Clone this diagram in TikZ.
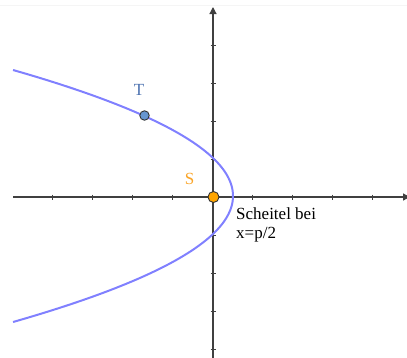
\documentclass[tikz,border=0pt]{standalone}
\usepackage{fontspec}
\setmainfont{Liberation Serif}
\usetikzlibrary{arrows.meta}
\definecolor{curveblue}{RGB}{128,128,255}
\definecolor{tfill}{RGB}{102,150,208}
\definecolor{tlabel}{RGB}{76,114,176}
\definecolor{sfill}{RGB}{255,165,0}
\definecolor{slabel}{RGB}{250,165,40}
\definecolor{axisgray}{RGB}{64,64,64}
\begin{document}
\begin{tikzpicture}[x=1pt,y=-1pt,
  axis/.style={draw=axisgray,line width=1.2pt},
  tick/.style={draw=axisgray,line width=1pt},
  curve/.style={draw=curveblue,line width=2pt},
  ptdot/.style={circle,draw=axisgray!80!black,line width=0.9pt,minimum size=10pt,inner sep=0pt},
  lbl/.style={inner sep=0pt,font=\fontsize{17}{19.5}\selectfont}]
\useasboundingbox (0,0) rectangle (407,357);
\clip (0,0) rectangle (407,357);
\draw[gray!8,line width=1.5pt] (0,5.5) -- (407,5.5);
% axes
\coordinate (xl) at (13,197);
\coordinate (xr) at (410,197);
\coordinate (yb) at (213,360);
\coordinate (yt) at (213,7);
\draw[axis,-{Triangle[length=7pt,width=7pt]}] (xl) -- (xr);
\draw[axis,-{Triangle[length=7pt,width=7pt]}] (yb) -- (yt);
\foreach \t in {52,92,132,172,252,292,332,372}
  \draw[tick] (\t,194.5) -- (\t,199.5);
\foreach \t in {45,83,121,159,235,273,311,349}
  \draw[tick] (210.5,\t) -- (215.5,\t);
% parabola
\draw[curve] plot[domain=70:322,samples=120,smooth] ({233-0.01386*(\x-196)^2},\x);
% points
\node[ptdot,fill=tfill,minimum size=9.5pt] (T) at (144.5,115.5) {};
\node[ptdot,fill=sfill,minimum size=11pt] (S) at (213.5,197) {};
\node[lbl,text=tlabel,anchor=base] (Tl) at (139,95.3) {T};
\node[lbl,text=slabel,anchor=base] (Sl) at (189.5,184) {S};
\node[lbl,anchor=north west,align=left] (sch) at (236,207) {Scheitel bei\\x=p/2};
\end{tikzpicture}
\end{document}
